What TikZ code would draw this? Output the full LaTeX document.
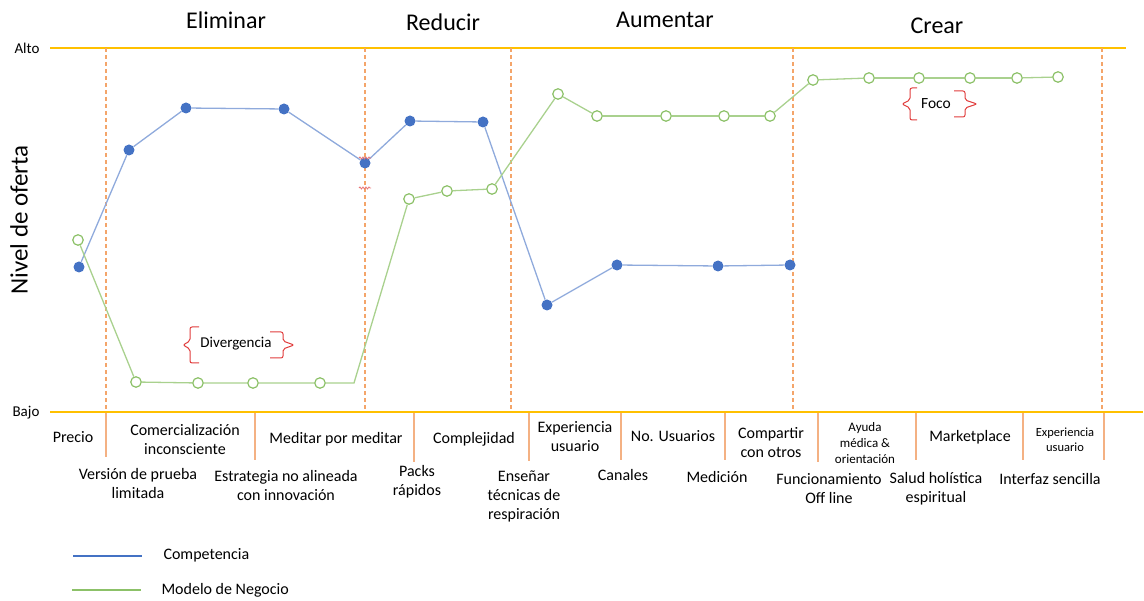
\documentclass[tikz,border=0pt]{standalone}
\usepackage{fontspec}
\setmainfont{Carlito}
\usetikzlibrary{decorations.pathmorphing}

\definecolor{azul}{HTML}{4472C4}
\definecolor{azulclaro}{HTML}{8FAADC}
\definecolor{verde}{HTML}{8CC168}
\definecolor{verdeclaro}{HTML}{A9D18E}
\definecolor{dorado}{HTML}{FFC000}
\definecolor{naranja}{HTML}{F4A56A}
\definecolor{naranjaclaro}{HTML}{F4B183}
\definecolor{rojo}{HTML}{E03C3C}

\begin{document}
\begin{tikzpicture}[x = 1pt, y = -1pt,
		comp/.style = {circle, fill = azul, inner sep = 0, minimum size = 11},
		modelo/.style = {circle, draw = verde, fill = white, line width = 1.2, inner sep = 0, minimum size = 10.5},
		complinea/.style = {draw = azulclaro, line width = 1.3},
		modelolinea/.style = {draw = verdeclaro, line width = 1.3},
		limite/.style = {draw = dorado, line width = 1.5},
		fase/.style = {draw = naranja, line width = 1.2, dash pattern = on 4pt off 3pt},
		divisor/.style = {draw = naranjaclaro, line width = 1.2},
		llave/.style = {draw = rojo, line width = 1, rounded corners = 2},
		marca/.style = {draw = rojo!70, line width = 0.8, decorate, decoration = {snake, segment length = 3, amplitude = 1}},
		titulo/.style = {font = \fontsize{24}{28}\selectfont},
		etiq/.style = {align = center, font = \fontsize{16}{19}\selectfont},
		chica/.style = {align = center, font = \fontsize{13}{16}\selectfont}]
	\useasboundingbox (0,0) rectangle (1144,601);
	
	\draw[limite] (50,48) -- (1126,48); % alto
	\draw[limite] (50,412) -- (1143,412); % bajo
	\node[font = \fontsize{15}{18}\selectfont] (alto) at (27,48) {Alto};
	\node[font = \fontsize{15}{18}\selectfont] (bajo) at (26,413) {Bajo};
	\node[rotate = 90, font = \fontsize{25}{30}\selectfont] (nivel) at (19,220) {Nivel de oferta};
	
	\foreach \x in {106,365,511,793,1102}
		\draw[fase] (\x,48) -- (\x,412);
	
	\node[titulo] (eliminar) at (226,20) {Eliminar};
	\node[titulo] (reducir) at (443,22) {Reducir};
	\node[titulo] (aumentar) at (665,20) {Aumentar};
	\node[titulo] (crear) at (937,26) {Crear};
	
	% competencia
	\foreach \x/\y [count = \i] in {79/267,129/150,186/108,284/109,365/163,410/121,483/122,547/305,617/265,718/266,790/265}
		\node[comp] (c\i) at (\x,\y) {};
	\foreach \i [remember = \i as \j (initially 1)] in {2,...,11}
		\draw[complinea] (c\j) -- (c\i);
	
	% modelo de negocio
	\foreach \x/\y [count = \i] in {78/240,136/382,198/383,253/383,320/383,409/199,447/191,492/189,558/94,597/116,666/116,724/116,770/116,813/80,869/78,919/78,970/78,1017/78,1058/77}
		\node[modelo] (m\i) at (\x,\y) {};
	\coordinate (quiebre) at (354,383);
	\draw[modelolinea] (m1) -- (m2) -- (m3) -- (m4) -- (m5) -- (quiebre) -- (m6);
	\foreach \i [remember = \i as \j (initially 6)] in {7,...,19}
		\draw[modelolinea] (m\j) -- (m\i);
	
	% marcas rojas
	\draw[marca] (359,158) -- (371,158);
	\draw[marca] (359,188) -- (371,188);
	
	% llaves
	\node[font = \fontsize{15}{18}\selectfont] (divergencia) at (236,344) {Divergencia};
	\draw[llave] (199,327) -- (190,327) -- (190,341) -- (183,345) -- (190,349) -- (190,363) -- (199,363);
	\draw[llave] (270,332) -- (283,332) -- (283,341) -- (294,345) -- (283,349) -- (283,358) -- (270,358);
	\node[font = \fontsize{15.5}{18}\selectfont] (foco) at (936,104) {Foco};
	\draw[llave] (917,88) -- (910,88) -- (910,100) -- (902,104) -- (910,108) -- (910,120) -- (917,120);
	\draw[llave] (954,91) -- (965,91) -- (965,100) -- (977,104) -- (965,108) -- (965,117) -- (954,117);
	
	% tabla de factores
	\foreach \x/\y in {106/457,255/460,414/462,529/461,621/460,725/460,818/462,916/460,1023/460,1104/460}
		\draw[divisor] (\x,413) -- (\x,\y);
	
	\node[etiq] (precio) at (73,437) {Precio};
	\node[etiq] (comercializacion) at (185,440) {Comercialización\\inconsciente};
	\node[etiq] (meditar) at (336,439) {Meditar por meditar};
	\node[etiq] (complejidad) at (474,439) {Complejidad};
	\node[etiq] (experiencia) at (575,437) {Experiencia\\usuario};
	\node[etiq] (usuarios) at (673,436) {No. Usuarios};
	\node[etiq] (compartir) at (771,443) {Compartir\\con otros};
	\node[chica] (ayuda) at (865,443) {Ayuda\\médica \&\\orientación};
	\node[etiq] (marketplace) at (970,437) {Marketplace};
	\node[align = center, font = \fontsize{12.5}{15}\selectfont] (experiencia2) at (1065,440) {Experiencia\\usuario};
	
	\node[etiq] (version) at (138,484) {Versión de prueba\\limitada};
	\node[etiq] (estrategia) at (286,486) {Estrategia no alineada\\con innovación};
	\node[etiq] (packs) at (417,482) {Packs\\rápidos};
	\node[etiq] (ensenar) at (524,496) {Enseñar\\técnicas de\\respiración};
	\node[etiq] (canales) at (623,475) {Canales};
	\node[etiq] (medicion) at (717,477) {Medición};
	\node[etiq] (funcionamiento) at (829,489) {Funcionamiento\\Off line};
	\node[etiq] (salud) at (936,489) {Salud holística\\espiritual};
	\node[etiq] (interfaz) at (1050,479) {Interfaz sencilla};
	
	% leyenda
	\coordinate (lc1) at (73,556);
	\coordinate (lc2) at (142,556);
	\coordinate (lm1) at (72,590);
	\coordinate (lm2) at (141,590);
	\draw[draw = azul, line width = 1.5] (lc1) -- (lc2);
	\draw[draw = verde, line width = 1.5] (lm1) -- (lm2);
	\node[anchor = west, font = \fontsize{16}{19}\selectfont] (competencia) at (160,555) {Competencia};
	\node[anchor = west, font = \fontsize{16}{19}\selectfont] (negocio) at (158,590) {Modelo de Negocio};
\end{tikzpicture}
\end{document}
